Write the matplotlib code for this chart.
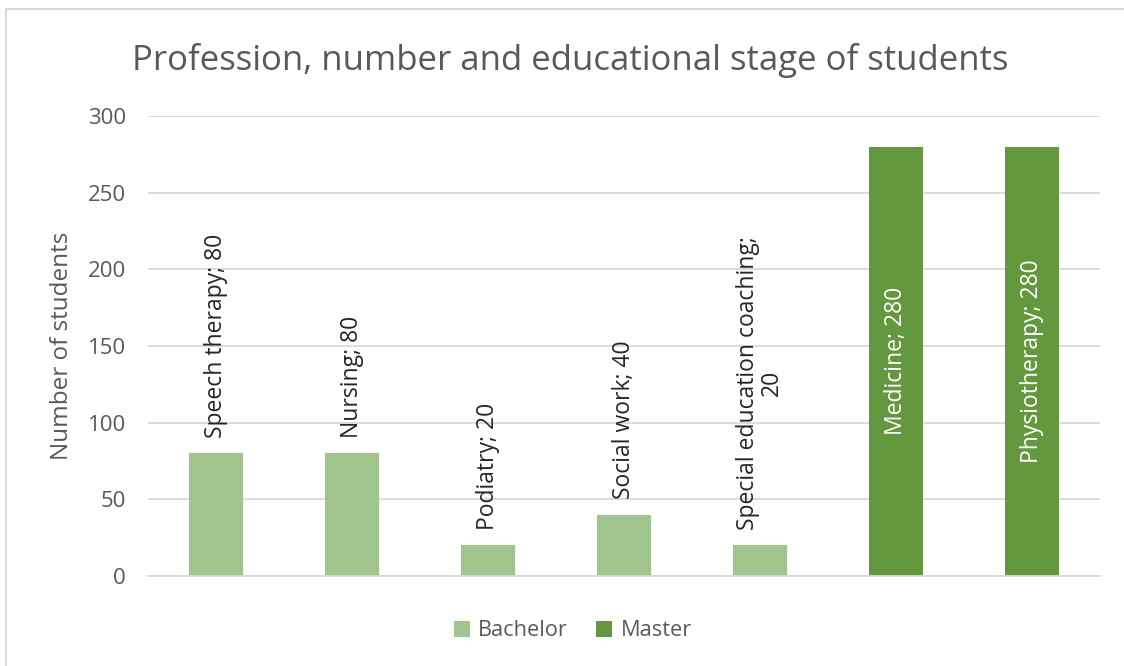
import matplotlib

matplotlib.use("Agg")
import matplotlib.patches as patches
import matplotlib.pyplot as plt
from matplotlib.patches import Patch

professions = ["Speech therapy", "Nursing", "Podiatry", "Social work",
               "Special education coaching", "Medicine", "Physiotherapy"]
students = [80, 80, 20, 40, 20, 280, 280]
stages = ["Bachelor", "Bachelor", "Bachelor", "Bachelor", "Bachelor", "Master", "Master"]
label_texts = ["Speech therapy; 80", "Nursing; 80", "Podiatry; 20", "Social work; 40",
               "Special education coaching;\n20", "Medicine; 280", "Physiotherapy; 280"]
yticks = [0, 50, 100, 150, 200, 250, 300]

COLORS = {"Bachelor": "#A2C58F", "Master": "#63983E"}
TEXT = "#595959"
GRID = "#D9D9D9"

plt.rcParams.update({"font.family": ["Open Sans", "DejaVu Sans"]})

W, H = 1124, 666
fig = plt.figure(figsize=(W / 100, H / 100), dpi=100, facecolor="white")

# outer chart frame (cropped on the right and bottom)
fig.add_artist(patches.Rectangle((6 / W, -0.05), 1.1, 1 - 9 / H + 0.05, transform=fig.transFigure,
                                 facecolor="none", edgecolor="#D9D9D9", linewidth=1.5))

ax = fig.add_axes([148 / W, (H - 576) / H, 952 / W, 460 / H])
x = list(range(len(professions)))
ax.bar(x, students, width=0.4, color=[COLORS[s] for s in stages], zorder=2)
ax.set_xlim(-0.5, len(professions) - 0.5)
ax.set_ylim(0, 300)
ax.set_yticks(yticks)
ax.set_xticks([])
ax.tick_params(axis="y", length=0, labelsize=16, labelcolor=TEXT, pad=16)
ax.grid(axis="y", color=GRID, linewidth=1.3, zorder=0)
for side in ["top", "right", "left"]:
    ax.spines[side].set_visible(False)
ax.spines["bottom"].set_color(GRID)
ax.spines["bottom"].set_linewidth(1.3)
ax.set_ylabel("Number of students", fontsize=17.5, color=TEXT, labelpad=10)

for xi, v, st, txt in zip(x, students, stages, label_texts):
    if st == "Master":
        ax.text(xi, v / 2, txt, rotation=90, ha="center", va="center",
                fontsize=16.5, color="white")
    else:
        ax.annotate(txt, (xi, v), xytext=(0, 11), textcoords="offset points",
                    rotation=90, ha="center", va="bottom", fontsize=16.5, color="#262626",
                    multialignment="center", linespacing=1.0)

fig.text(570 / W, 1 - 60 / H, "Profession, number and educational stage of students",
         ha="center", va="center", fontsize=25, color=TEXT)

handles = [Patch(facecolor=COLORS[k], label=k) for k in ["Bachelor", "Master"]]
fig.legend(handles=handles, loc="center", bbox_to_anchor=(573 / W, 1 - 631 / H), ncol=2,
           frameon=False, fontsize=15.7, labelcolor=TEXT, handlelength=0.7, handleheight=0.7,
           handletextpad=0.4, columnspacing=1.3)

fig.savefig("out.png", dpi=100, facecolor="white")
